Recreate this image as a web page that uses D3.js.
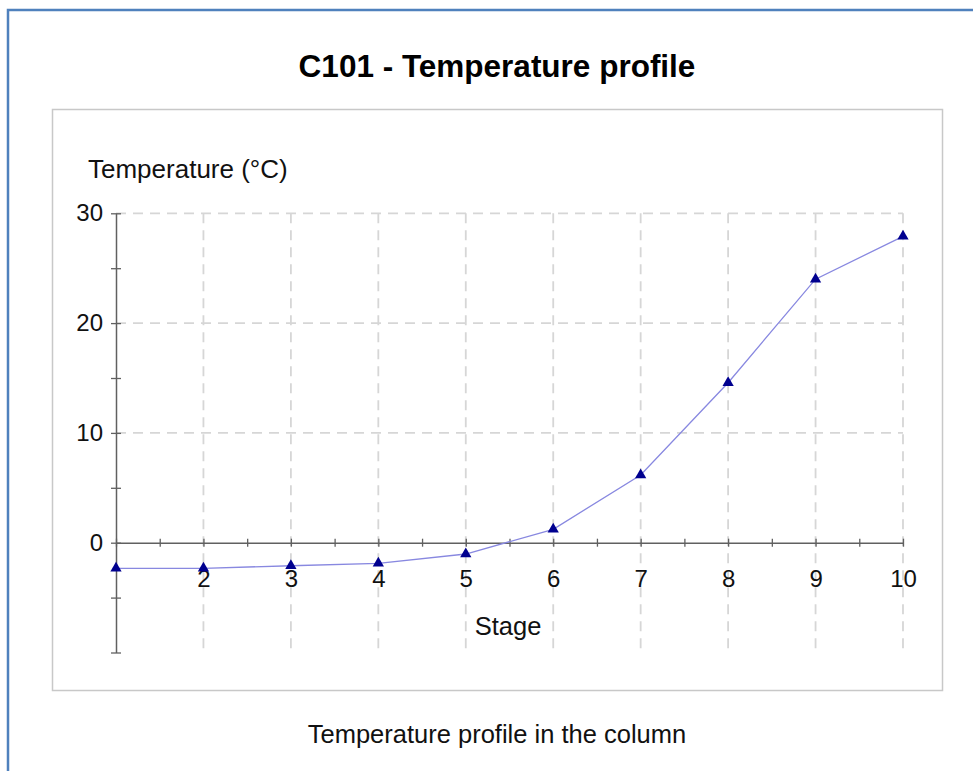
<!DOCTYPE html>
<html>
<head>
<meta charset="utf-8">
<script src="https://cdn.jsdelivr.net/npm/d3@7"></script>
<style>
  html, body { margin: 0; padding: 0; background: #fff; }
  svg { display: block; font-family: "Liberation Sans", Arial, sans-serif; }
</style>
</head>
<body>
<div id="chart"></div>
<script>
const stages = [1, 2, 3, 4, 5, 6, 7, 8, 9, 10];
const temps  = [-2.33, -2.33, -2.1, -1.88, -1.03, 1.22, 6.17, 14.57, 24.0, 27.9];
const xTickLabels = [2, 3, 4, 5, 6, 7, 8, 9, 10];
const yTickLabels = [0, 10, 20, 30];
const yGridValues = [10, 20, 30];

const width = 973, height = 771;

const svg = d3.select('#chart').append('svg')
  .attr('width', width)
  .attr('height', height);

// outer frame (runs off the page to the right / bottom)
svg.append('rect')
  .attr('x', 8).attr('y', 10)
  .attr('width', 1000).attr('height', 1000)
  .attr('fill', 'none')
  .attr('stroke', '#4f81bd')
  .attr('stroke-width', 2.5);

svg.append('text')
  .attr('x', 497).attr('y', 77)
  .attr('text-anchor', 'middle')
  .attr('font-size', 31.5)
  .attr('font-weight', 'bold')
  .attr('fill', '#000')
  .text('C101 - Temperature profile');

// plot panel
svg.append('rect')
  .attr('x', 52.5).attr('y', 109.5)
  .attr('width', 890).attr('height', 581)
  .attr('fill', '#fff')
  .attr('stroke', '#c8c8c8')
  .attr('stroke-width', 1.5);

svg.append('text')
  .attr('x', 497).attr('y', 743)
  .attr('text-anchor', 'middle')
  .attr('font-size', 25.5)
  .attr('fill', '#111')
  .text('Temperature profile in the column');

const x = d3.scaleLinear().domain([1, 10]).range([116, 903]);
const y = d3.scaleLinear().domain([-10, 30]).range([652.5, 213.3]);

// grid
const gridG = svg.append('g').attr('class', 'grid')
  .attr('stroke', '#d6d6d6')
  .attr('stroke-width', 1.8)
  .attr('stroke-dasharray', '10,7');

gridG.selectAll('line.v').data(xTickLabels).join('line')
  .attr('class', 'v')
  .attr('x1', d => x(d)).attr('x2', d => x(d))
  .attr('y1', y(30)).attr('y2', y(-10));

gridG.selectAll('line.h').data(yGridValues).join('line')
  .attr('class', 'h')
  .attr('x1', x(1)).attr('x2', x(10))
  .attr('y1', d => y(d)).attr('y2', d => y(d));

// axes
const axisColor = '#606060';

const yAxisG = svg.append('g')
  .attr('transform', `translate(${x(1)},0)`)
  .call(d3.axisLeft(y).tickValues(d3.range(-10, 31, 5)).tickSize(5).tickSizeOuter(0)
    .tickFormat(d => yTickLabels.includes(d) ? d : ''));
yAxisG.select('.domain').attr('stroke', axisColor).attr('stroke-width', 1.5);
yAxisG.selectAll('.tick line').attr('x1', -5).attr('x2', 5).attr('stroke', axisColor).attr('stroke-width', 1.3);
yAxisG.selectAll('.tick text')
  .attr('x', -13)
  .attr('font-size', 24)
  .attr('font-family', '"Liberation Sans", Arial, sans-serif')
  .attr('fill', '#111');

const xAxisG = svg.append('g')
  .attr('transform', `translate(0,${y(0)})`)
  .call(d3.axisBottom(x).tickValues(d3.range(1, 10.01, 0.5)).tickSize(4).tickSizeOuter(0)
    .tickFormat(d => xTickLabels.includes(d) ? d : ''));
xAxisG.select('.domain').attr('stroke', axisColor).attr('stroke-width', 1.5);
xAxisG.selectAll('.tick line').attr('y1', -4).attr('y2', 4).attr('stroke', axisColor).attr('stroke-width', 1.3);
xAxisG.selectAll('.tick text')
  .attr('y', 44).attr('dy', 0)
  .attr('font-size', 24)
  .attr('font-family', '"Liberation Sans", Arial, sans-serif')
  .attr('fill', '#111');

// axis titles
svg.append('text')
  .attr('x', 88).attr('y', 178)
  .attr('font-size', 26)
  .attr('fill', '#111')
  .text('Temperature (°C)');

svg.append('text')
  .attr('x', 508).attr('y', 635)
  .attr('text-anchor', 'middle')
  .attr('font-size', 25.5)
  .attr('fill', '#111')
  .text('Stage');

// series
const data = stages.map((s, i) => ({ stage: s, temp: temps[i] }));

const line = d3.line()
  .x(d => x(d.stage))
  .y(d => y(d.temp));

svg.append('path')
  .datum(data)
  .attr('fill', 'none')
  .attr('stroke', '#8888e0')
  .attr('stroke-width', 1.3)
  .attr('d', line);

svg.append('g').selectAll('path.pt').data(data).join('path')
  .attr('class', 'pt')
  .attr('transform', d => `translate(${x(d.stage)},${y(d.temp)})`)
  .attr('d', d3.symbol(d3.symbolTriangle, 55))
  .attr('fill', '#00008f');
</script>
</body>
</html>
